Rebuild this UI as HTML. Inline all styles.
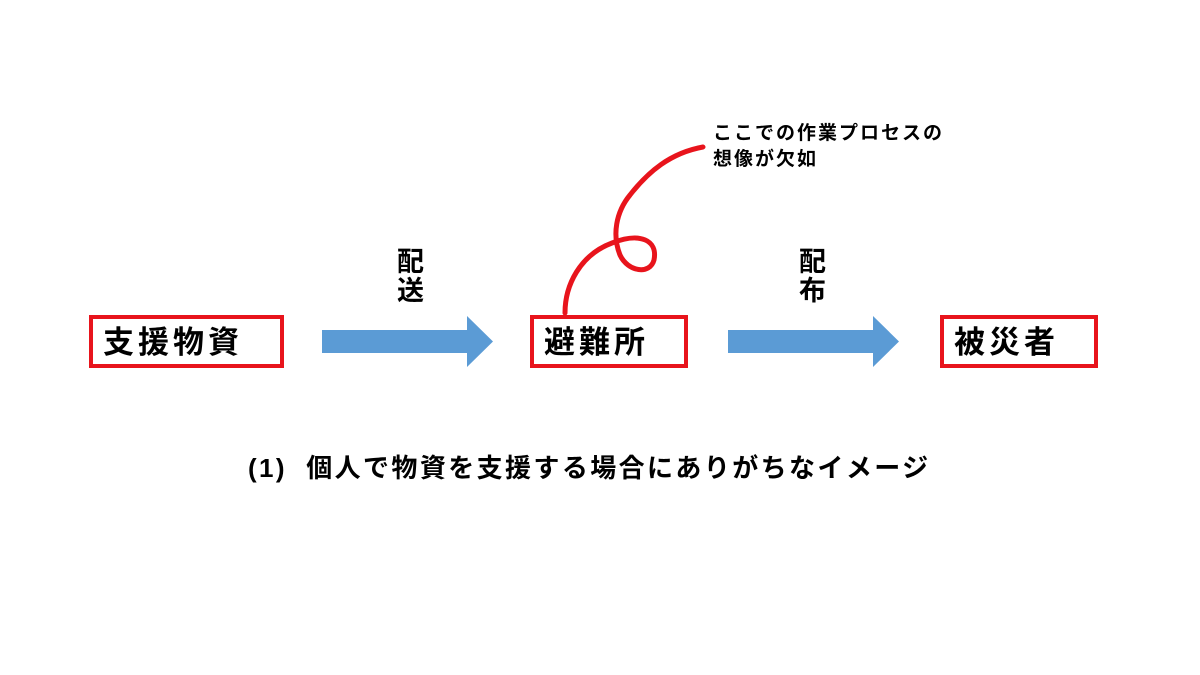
<!DOCTYPE html>
<html><head><meta charset="utf-8"><style>
body{margin:0;width:1200px;height:675px;background:#fff;position:relative;overflow:hidden;font-family:"Liberation Sans","Noto Sans CJK JP",sans-serif;font-weight:bold;color:#000}
.box{position:absolute;border:4px solid #e8141c;box-sizing:border-box;font-size:31px;line-height:48px;padding-left:10px;letter-spacing:4px}
.t{position:absolute;white-space:nowrap}
</style></head><body>
<div class="box" style="left:89px;top:315px;width:195px;height:53px">支援物資</div>
<div class="box" style="left:530px;top:315px;width:158px;height:53px">避難所</div>
<div class="box" style="left:940px;top:315px;width:158px;height:53px">被災者</div>
<div class="t" style="left:397px;top:248px;font-size:27px;line-height:29px">配<br>送</div>
<div class="t" style="left:799px;top:248px;font-size:27px;line-height:29px">配<br>布</div>
<div class="t" style="left:713px;top:121px;font-size:19px;line-height:26px;letter-spacing:2px">ここでの作業プロセスの<br>想像が欠如</div>
<div class="t" style="left:248px;top:452px;font-size:26px;line-height:32px;letter-spacing:2.4px">(1)&nbsp; 個人で物資を支援する場合にありがちなイメージ</div>
<svg width="1200" height="675" style="position:absolute;left:0;top:0">
<polygon points="322,330 467,330 467,316 493,341.5 467,367 467,353 322,353" fill="#5b9bd5"/>
<polygon points="728,330 873,330 873,316 899,341.5 873,367 873,353 728,353" fill="#5b9bd5"/>
<path d="M565,313 C565,285 580,255 612,243 C640,232 658,240 654,260 C650,275 628,272 620,255 C612,235 616,212 630,195 C648,172 670,153 703,147" fill="none" stroke="#e8141c" stroke-width="5" stroke-linecap="round"/>
</svg>
</body></html>
